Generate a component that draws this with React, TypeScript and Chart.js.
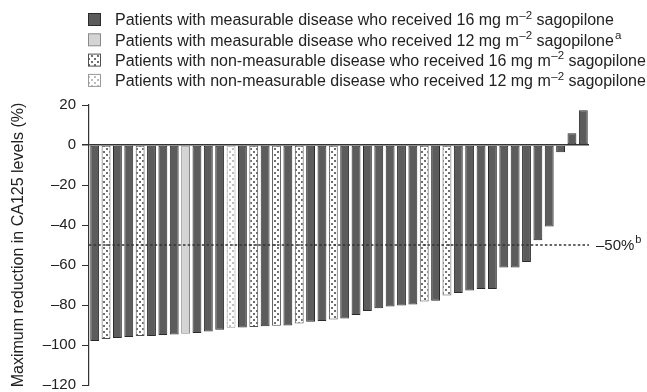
import React, { useEffect, useRef } from 'react';
import { Chart, registerables } from 'chart.js';

Chart.register(...registerables);

// ---- data ----
const patients = Array.from({ length: 44 }, (_, i) => `P${i + 1}`);
const reductions = [
  -98, -97, -96.5, -96, -95.5, -95.5, -95, -94.7, -94.4, -94,
  -93.2, -92.4, -91.4, -91.2, -91, -90.6, -90.4, -90.2, -89.3, -88.4,
  -88, -87.2, -86.8, -85, -83, -81.6, -80.7, -80.2, -79.7, -78.3,
  -77.9, -75.3, -74, -72.8, -72, -72, -61.3, -61.3, -58.5, -47.6,
  -40.7, -3.6, 5.9, 17.4,
];
// m16 = measurable 16 mg, m12 = measurable 12 mg, n16 = non-measurable 16 mg, n12 = non-measurable 12 mg
const groups = [
  'm16', 'n16', 'm16', 'm16', 'n16', 'm16', 'm16', 'm16', 'm12', 'm16',
  'm16', 'm16', 'n12', 'm16', 'n16', 'm16', 'n16', 'm16', 'n16', 'm16',
  'm16', 'n16', 'm16', 'm16', 'm16', 'm16', 'm16', 'm16', 'm16', 'n16',
  'm16', 'n16', 'm16', 'm16', 'm16', 'm16', 'm16', 'm16', 'm16', 'm16',
  'm16', 'm16', 'm16', 'm16',
];
const yMin = -120;
const yMax = 20;
const yStep = 20;
const threshold = -50;
const thresholdLabel = '–50%';
const thresholdSup = 'b';
const yTitle = 'Maximum reduction in CA125 levels (%)';
const legendKeys = ['m16', 'm12', 'n16', 'n12'];
const legendTexts: [string, string, string, string][] = [
  ['Patients with measurable disease who received 16 mg m', '–2', ' sagopilone', ''],
  ['Patients with measurable disease who received 12 mg m', '–2', ' sagopilone', 'a'],
  ['Patients with non-measurable disease who received 16 mg m', '–2', ' sagopilone', ''],
  ['Patients with non-measurable disease who received 12 mg m', '–2', ' sagopilone', ''],
];

const FONT = '"Liberation Sans", Arial, Helvetica, sans-serif';
const TEXT = '#222';

function makeDots(dot: string): CanvasPattern {
  const c = document.createElement('canvas');
  c.width = 6;
  c.height = 6;
  const g = c.getContext('2d')!;
  g.fillStyle = '#ffffff';
  g.fillRect(0, 0, 6, 6);
  g.fillStyle = dot;
  g.fillRect(1, 1, 2, 2);
  g.fillRect(4, 4, 2, 2);
  return g.createPattern(c, 'repeat')!;
}

export default function App() {
  const ref = useRef<HTMLCanvasElement | null>(null);

  useEffect(() => {
    const canvas = ref.current;
    if (!canvas) return;

    const styles: Record<string, { bg: string | CanvasPattern; border: string }> = {
      m16: { bg: '#5c5c5c', border: '#2a2a2a' },
      m12: { bg: '#d4d4d4', border: '#8a8a8a' },
      n16: { bg: makeDots('#707070'), border: '#505050' },
      n12: { bg: makeDots('#bdbdbd'), border: '#9a9a9a' },
    };

    const overlay = {
      id: 'overlay',
      afterDatasetsDraw(chart: any) {
        const { ctx, chartArea, scales } = chart;
        const y = scales.y.getPixelForValue(threshold);
        ctx.save();
        ctx.strokeStyle = '#333';
        ctx.lineWidth = 1.3;
        ctx.setLineDash([2.5, 2.2]);
        ctx.beginPath();
        ctx.moveTo(chartArea.left, y);
        ctx.lineTo(chartArea.right, y);
        ctx.stroke();
        ctx.setLineDash([]);
        ctx.fillStyle = TEXT;
        ctx.textBaseline = 'middle';
        ctx.textAlign = 'left';
        ctx.font = `15px ${FONT}`;
        const lx = chartArea.right + 7;
        ctx.fillText(thresholdLabel, lx, y + 1);
        const w = ctx.measureText(thresholdLabel).width;
        ctx.font = `11px ${FONT}`;
        ctx.fillText(thresholdSup, lx + w + 1, y - 5);
        ctx.restore();
      },
      afterDraw(chart: any) {
        const { ctx } = chart;
        ctx.save();
        legendKeys.forEach((key, i) => {
          const cy = 20 + i * 20.3;
          const st = styles[key];
          ctx.fillStyle = st.bg;
          ctx.fillRect(88.5, cy - 6.5, 12, 12);
          ctx.strokeStyle = st.border;
          ctx.lineWidth = 1;
          ctx.strokeRect(88.5, cy - 6.5, 12, 12);
          const [a, sup, b, sup2] = legendTexts[i];
          ctx.fillStyle = TEXT;
          ctx.textBaseline = 'middle';
          ctx.textAlign = 'left';
          let x = 115;
          ctx.font = `16px ${FONT}`;
          ctx.fillText(a, x, cy + 1);
          x += ctx.measureText(a).width;
          ctx.font = `11.5px ${FONT}`;
          ctx.fillText(sup, x + 0.5, cy - 4.5);
          x += ctx.measureText(sup).width + 0.5;
          ctx.font = `16px ${FONT}`;
          ctx.fillText(b, x, cy + 1);
          x += ctx.measureText(b).width;
          if (sup2) {
            ctx.font = `11.5px ${FONT}`;
            ctx.fillText(sup2, x + 1, cy - 4.5);
          }
        });
        ctx.restore();
      },
    };

    const chart = new Chart(canvas, {
      type: 'bar',
      data: {
        labels: patients,
        datasets: [
          {
            data: reductions,
            backgroundColor: (c: any) => styles[groups[c.dataIndex]]?.bg ?? '#5c5c5c',
            borderColor: (c: any) => styles[groups[c.dataIndex]]?.border ?? '#2a2a2a',
            borderWidth: 1,
            borderSkipped: false,
            categoryPercentage: 1,
            barPercentage: 0.78,
          } as any,
        ],
      },
      options: {
        animation: false,
        responsive: false,
        devicePixelRatio: 1,
        layout: { padding: { top: 105, bottom: 11, left: 0, right: 58 } },
        plugins: { legend: { display: false }, tooltip: { enabled: false } },
        scales: {
          x: { display: false },
          y: {
            min: yMin,
            max: yMax,
            afterFit: (s: any) => {
              s.width = 89;
            },
            ticks: {
              stepSize: yStep,
              padding: 6,
              color: TEXT,
              font: { family: FONT, size: 15 },
              callback: (v: any) => (v < 0 ? '–' + Math.abs(v) : String(v)),
            },
            grid: {
              drawOnChartArea: true,
              color: (c: any) => (c.tick && c.tick.value === 0 ? '#333' : 'rgba(0,0,0,0)'),
              lineWidth: (c: any) => (c.tick && c.tick.value === 0 ? 1.5 : 1),
              tickColor: '#333',
              tickLength: 7,
            },
            border: { display: true, color: '#333', width: 1.2 },
            title: {
              display: true,
              text: yTitle,
              color: TEXT,
              font: { family: FONT, size: 16 },
              padding: { top: 9, bottom: 0 },
            },
          },
        },
      },
      plugins: [overlay],
    });

    return () => chart.destroy();
  }, []);

  return (
    <div style={{ position: 'fixed', left: 0, top: 0, width: 647, height: 400, background: '#fff' }}>
      <canvas ref={ref} width={647} height={400} style={{ display: 'block', width: 647, height: 400 }} />
    </div>
  );
}
